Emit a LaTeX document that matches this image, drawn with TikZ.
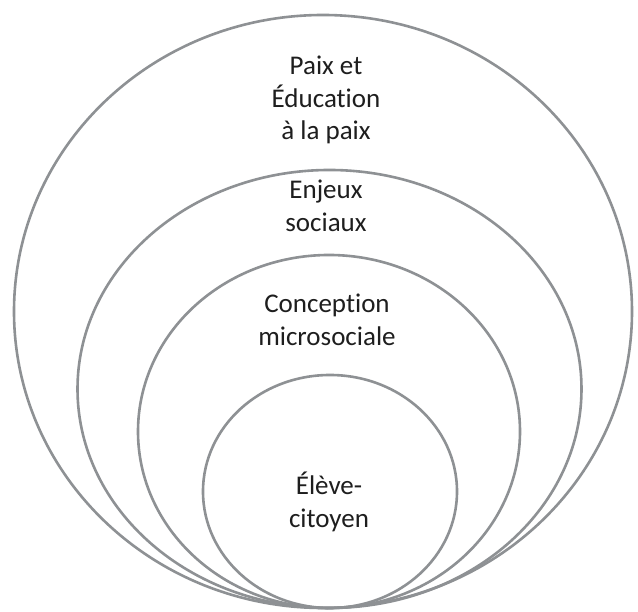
\documentclass[tikz,border=0pt]{standalone}
\usepackage{fontspec}
\setsansfont{Carlito}[Ligatures=NoCommon]
\usepackage{xcolor}
\definecolor{ink}{HTML}{1E1E1E}
\definecolor{ring}{HTML}{8E9194}

\begin{document}
\begin{tikzpicture}[
 x=1pt,y=1pt,font=\sffamily,
 label/.style={font=\sffamily\fontsize{27}{32.5}\selectfont,text=ink,align=center},
 ringline/.style={draw=ring,line width=2.6pt}
]
\fill[white] (0,0) rectangle (638,612);

% Nested rings, all touching at the bottom.
\draw[ringline] (323,300.5) ellipse [x radius=309,y radius=296.5];
\draw[ringline] (329.5,223) ellipse [x radius=252,y radius=219];
\draw[ringline] (329,180.5) ellipse [x radius=191,y radius=176.5];
\draw[ringline] (330,120.5) ellipse [x radius=127,y radius=116.5];

% Ring labels.
\node[label] (paix) at (326,512) {Paix et\\Éducation\\à la paix};
\node[label] (enjeux) at (326,406) {Enjeux\\sociaux};
\node[label] (micro) at (327,292) {Conception\\microsociale};
\node[label] (eleve) at (329,110) {Élève-\\citoyen};
\end{tikzpicture}
\end{document}
